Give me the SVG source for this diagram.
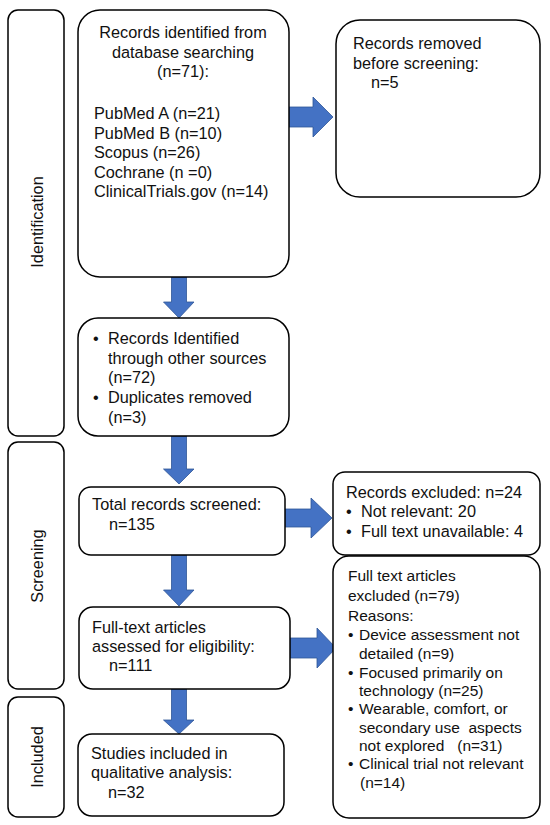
<svg xmlns="http://www.w3.org/2000/svg" width="550" height="825" viewBox="0 0 550 825">
<style>
.box{fill:#fff;stroke:#000;stroke-width:1.5}
.arr{fill:#4472C4;stroke:#2F5597;stroke-width:0.8}
text{font-family:"Liberation Sans",Arial,sans-serif;font-size:16.3px;fill:#111}
.sm{font-size:15.5px}
.mid{text-anchor:middle}
</style>
<rect width="550" height="825" fill="#fff"/>
<g id="stage-identification"><rect class="box" x="8" y="10" width="56" height="426" rx="10"/><text class="mid" transform="translate(43,222) rotate(-90)">Identification</text></g>
<g id="stage-screening"><rect class="box" x="8" y="442" width="56" height="247" rx="10"/><text class="mid" transform="translate(42.5,566) rotate(-90)">Screening</text></g>
<g id="stage-included"><rect class="box" x="8" y="697" width="56" height="120" rx="10"/><text class="mid" transform="translate(43,757) rotate(-90)">Included</text></g>

<g id="connectors">
<path class="arr" d="M171.5,277 H186.5 V302 H194 L179,318 L163.5,302 H171.5 Z"/>
<path class="arr" d="M171.5,436 H186.5 V469 H194 L179,484 L163.5,469 H171.5 Z"/>
<path class="arr" d="M171.5,555 H186.5 V590 H194 L179,606 L163.5,590 H171.5 Z"/>
<path class="arr" d="M171.5,689 H186.5 V720 H194 L179,734 L163.5,720 H171.5 Z"/>
<path class="arr" d="M289,107 H313 V97 L333,117 L313,137 V127 H289 Z"/>
<path class="arr" d="M285,509 H311 V498 L332,518 L311,538 V527 H285 Z"/>
<path class="arr" d="M290,638 H317 V628 L336,648 L317,668 V658 H290 Z"/>
</g>

<g id="db-search"><rect class="box" x="78" y="10" width="211" height="267" rx="22"/>
<text class="mid" x="183" y="38">Records identified from</text>
<text class="mid" x="183" y="57.5">database searching</text>
<text class="mid" x="183" y="77">(n=71):</text>
<text x="94" y="119">PubMed A (n=21)</text>
<text x="94" y="138.5">PubMed B (n=10)</text>
<text x="94" y="158">Scopus (n=26)</text>
<text x="94" y="177.5">Cochrane (n =0)</text>
<text x="94" y="197">ClinicalTrials.gov (n=14)</text>
</g>
<g id="removed"><rect class="box" x="336" y="20" width="204" height="177" rx="24"/>
<text x="353" y="49">Records removed</text>
<text x="353" y="68.5">before screening:</text>
<text x="371" y="88">n=5</text>
</g>
<g id="other-sources"><rect class="box" x="78" y="318" width="211" height="118" rx="20"/>
<text x="93" y="344">•</text><text x="108" y="344">Records Identified</text>
<text x="108" y="363.5">through other sources</text>
<text x="108" y="383">(n=72)</text>
<text x="93" y="403">•</text><text x="108" y="403">Duplicates removed</text>
<text x="108" y="422.5">(n=3)</text>
</g>
<g id="screened"><rect class="box" x="79" y="487" width="206" height="68" rx="12"/>
<text x="92" y="510">Total records screened:</text>
<text x="109" y="529.5">n=135</text>
</g>
<g id="excluded"><rect class="box" x="333" y="472" width="207" height="83" rx="12"/>
<text x="346" y="497.5">Records excluded:  n=24</text>
<text x="346" y="517">•</text><text x="361" y="517">Not relevant:  20</text>
<text x="346" y="537">•</text><text x="361" y="537">Full text  unavailable: 4</text>
</g>
<g id="fulltext"><rect class="box" x="79" y="607" width="211" height="82" rx="14"/>
<text x="92" y="632.5">Full-text articles</text>
<text x="92" y="651.5">assessed for eligibility:</text>
<text x="109" y="671">n=111</text>
</g>
<g id="fulltext-excluded"><rect class="box" x="333" y="556" width="207" height="262" rx="16"/>
<text class="sm" x="348" y="581">Full text  articles</text>
<text class="sm" x="348" y="601">excluded (n=79)</text>
<text class="sm" x="348" y="620.5">Reasons:</text>
<text class="sm" x="348" y="639.5">•</text><text class="sm" x="359" y="639.5">Device assessment not</text>
<text class="sm" x="359" y="658.5">detailed (n=9)</text>
<text class="sm" x="348" y="677.5">•</text><text class="sm" x="359" y="677.5">Focused primarily on</text>
<text class="sm" x="359" y="696">technology (n=25)</text>
<text class="sm" x="348" y="714">•</text><text class="sm" x="359" y="714">Wearable, comfort, or</text>
<text class="sm" x="359" y="732.5" xml:space="preserve">secondary use  aspects</text>
<text class="sm" x="359" y="750.5" xml:space="preserve">not explored   (n=31)</text>
<text class="sm" x="348" y="768.5">•</text><text class="sm" x="359" y="768.5">Clinical trial not relevant</text>
<text class="sm" x="360" y="787.5">(n=14)</text>
</g>
<g id="included"><rect class="box" x="78" y="734" width="206" height="82" rx="14"/>
<text x="91" y="758.5">Studies included in</text>
<text x="91" y="778">qualitative analysis:</text>
<text x="108" y="798">n=32</text>
</g>
</svg>
